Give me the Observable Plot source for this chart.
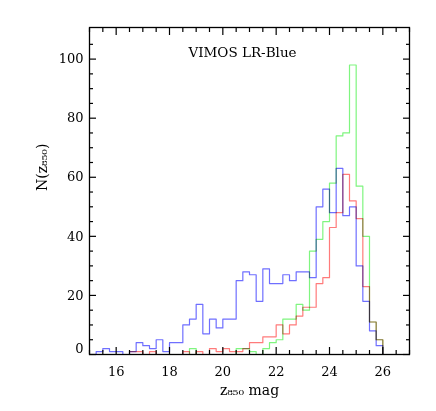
<!DOCTYPE html>
<html><head><meta charset="utf-8">
<script src="https://cdn.jsdelivr.net/npm/d3@7"></script>
<script src="https://cdn.jsdelivr.net/npm/@observablehq/plot@0.6"></script>
<style>
html,body{margin:0;padding:0;background:#fff;}
</style></head><body><div id="chart"></div>
<script>
// lower bin edges (mag)
const binEdges = [15.00,15.25,15.50,15.75,16.00,16.25,16.50,16.75,17.00,17.25,17.50,17.75,
                  18.00,18.25,18.50,18.75,19.00,19.25,19.50,19.75,20.00,20.25,20.50,20.75,
                  21.00,21.25,21.50,21.75,22.00,22.25,22.50,22.75,23.00,23.25,23.50,23.75,
                  24.00,24.25,24.50,24.75,25.00,25.25,25.50,25.75,26.00,26.25,26.50,26.75];
const binWidth = 0.25;
const blueCounts = [0,1,2,1,1,0,1,4,3,2,5,1,
                    4,4,10,12,17,7,12,9,12,12,25,28,
                    27,18,29,24,24,27,25,28,28,26,50,56,
                    48,63,47,50,30,18,8,3,0,0,0,0];
const redCounts = [null,null,null,null,null,null,1,1,0,1,0,0,
                   0,0,1,0,1,0,2,1,2,1,1,2,
                   4,4,6,6,10,7,10,13,16,16,24,26,
                   43,48,61,52,46,23,11,5,0,null,null,null];
const greenCounts = [null,null,null,null,null,null,null,null,0,0,0,0,
                     0,0,0,2,0,0,0,0,0,0,2,2,
                     1,0,2,4,5,12,12,17,15,35,39,45,
                     58,74,75,98,57,40,11,5,0,null,null,null];
const seriesNames = ["all", "red", "green"];
const seriesColors = ["#6f6fff", "#ff7b7b", "#7ff57f"];
const xTicks = [16, 18, 20, 22, 24, 26];
const yTicks = [0, 20, 40, 60, 80, 100];
const title = "VIMOS LR-Blue";
const xLabel = "z\u2088\u2085\u2080 mag";
const yLabel = "N(z\u2088\u2085\u2080)";

function steps(name, counts) {
  const pts = [];
  let last = -1;
  counts.forEach((c, i) => {
    if (c != null) { pts.push({series: name, x: binEdges[i], y: c}); last = i; }
  });
  pts.push({series: name, x: binEdges[last] + binWidth, y: counts[last]});
  return pts;
}
const data = [
  ...steps(seriesNames[0], blueCounts),
  ...steps(seriesNames[1], redCounts),
  ...steps(seriesNames[2], greenCounts)
];

const xMinor = d3.range(15, 27.001, 0.5).filter(v => !xTicks.includes(v));
const yMinor = d3.range(0, 110, 5).filter(v => !yTicks.includes(v));
const font = "DejaVu Serif";

const plot = Plot.plot({
  width: 436, height: 411,
  marginLeft: 89, marginRight: 27, marginTop: 27, marginBottom: 57,
  style: {fontFamily: font, fontSize: "13px", color: "#000", background: "#fff"},
  x: {domain: [15, 27]},
  y: {domain: [0, 110.7]},
  color: {domain: seriesNames, range: seriesColors},
  marks: [
    Plot.line(data, {x: "x", y: "y", z: "series", stroke: "series", curve: "step-after",
                     strokeWidth: 1.2, mixBlendMode: "multiply"}),
    Plot.frame({stroke: "#000", strokeWidth: 1.3}),
    // major / minor ticks, inward, on all four sides
    Plot.axisX({anchor: "bottom", ticks: xTicks, tickSize: -7, tickFormat: () => "", label: null, strokeWidth: 1.2}),
    Plot.axisX({anchor: "bottom", ticks: xMinor, tickSize: -4, tickFormat: () => "", label: null, strokeWidth: 1.2}),
    Plot.axisX({anchor: "top", ticks: xTicks, tickSize: -7, tickFormat: () => "", label: null, strokeWidth: 1.2}),
    Plot.axisX({anchor: "top", ticks: xMinor, tickSize: -4, tickFormat: () => "", label: null, strokeWidth: 1.2}),
    Plot.axisY({anchor: "left", ticks: yTicks, tickSize: -7, tickFormat: () => "", label: null, strokeWidth: 1.2}),
    Plot.axisY({anchor: "left", ticks: yMinor, tickSize: -4, tickFormat: () => "", label: null, strokeWidth: 1.2}),
    Plot.axisY({anchor: "right", ticks: yTicks, tickSize: -7, tickFormat: () => "", label: null, strokeWidth: 1.2}),
    Plot.axisY({anchor: "right", ticks: yMinor, tickSize: -4, tickFormat: () => "", label: null, strokeWidth: 1.2}),
    // tick labels
    Plot.axisX({anchor: "bottom", ticks: xTicks, tickSize: 0, tickPadding: 12, label: null, fontSize: 13}),
    Plot.axisY({anchor: "left", ticks: yTicks.filter(v => v !== 0), tickSize: 0, tickPadding: 6, label: null, fontSize: 13}),
    Plot.axisY({anchor: "left", ticks: [0], tickSize: 0, tickPadding: 6, dy: -6, label: null, fontSize: 13}),
    // labels
    Plot.text([title], {frameAnchor: "top", text: d => d, dx: -7, dy: 25, lineAnchor: "middle", fontSize: 13.5}),
    Plot.text([xLabel], {frameAnchor: "bottom", text: d => d, dy: 36, lineAnchor: "middle", fontSize: 14}),
    Plot.text([yLabel], {frameAnchor: "left", text: d => d, dx: -47, rotate: -90, lineAnchor: "middle", fontSize: 14})
  ]
});
document.getElementById("chart").appendChild(plot);
</script>
</body></html>
